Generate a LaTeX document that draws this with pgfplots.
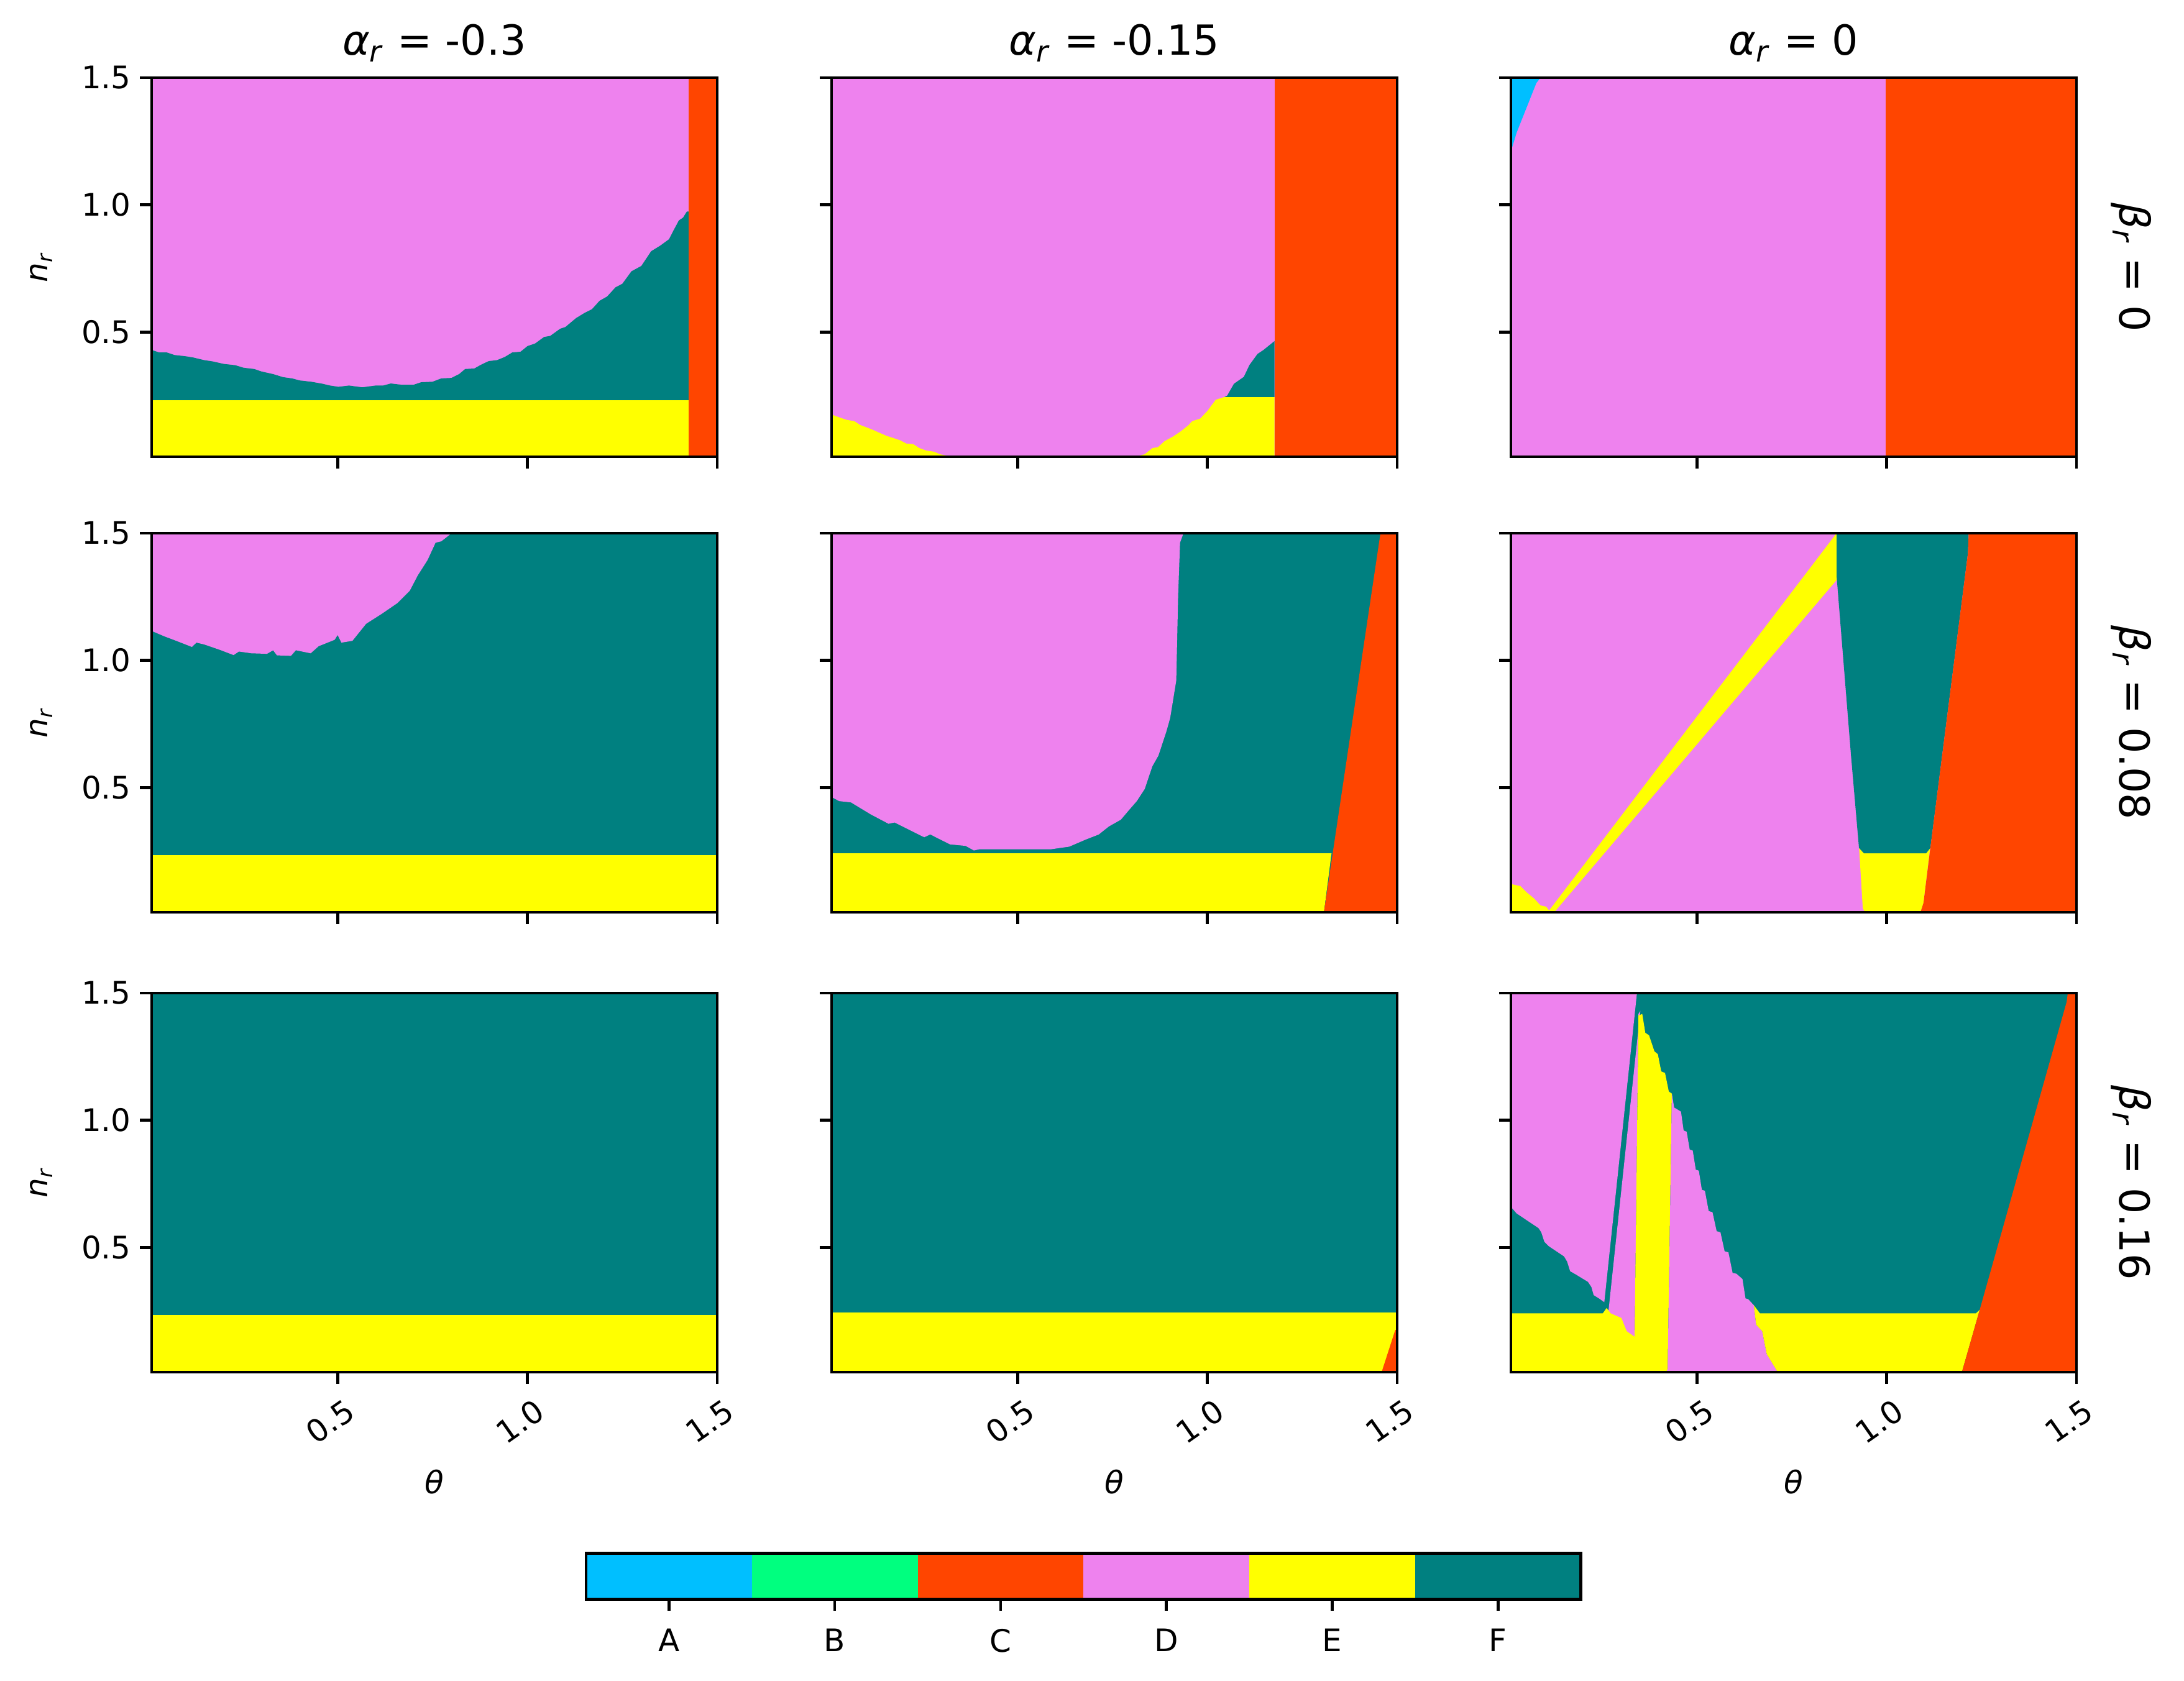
\documentclass[border=0pt]{standalone}
\usepackage{fontspec}
\setmainfont{DejaVu Sans}
\usepackage{pgfplots}
\pgfplotsset{compat=1.18}
\definecolor{cA}{HTML}{00BFFF}
\definecolor{cB}{HTML}{00FF7F}
\definecolor{cC}{HTML}{FF4500}
\definecolor{cD}{HTML}{EE82EE}
\definecolor{cE}{HTML}{FFFF00}
\definecolor{cF}{HTML}{008080}
\newcommand{\ar}{\textit{α}\textsubscript{\textit{r}}}
\newcommand{\br}{\textit{β}\textsubscript{\textit{r}}}
\newcommand{\nr}{\textit{n}\textsubscript{\textit{r}}}
\pgfplotsset{
  panel/.style={
    scale only axis, width=218.4pt, height=146.4pt, anchor=north west,
    xmin=0.01, xmax=1.5, ymin=0.01, ymax=1.5,
    xtick={0.5,1.0,1.5}, ytick={0.5,1.0,1.5},
    tick pos=left, tick align=outside, major tick length=4.5pt,
    axis on top, clip mode=individual, axis line style={line width=1.1pt},
    every tick/.style={black, line width=1.1pt},
    ticklabel style={font=\fontsize{12}{14}\selectfont},
    xticklabels={}, yticklabels={},
    title style={font=\fontsize{16}{19}\selectfont, at={(0.5,1)}, anchor=base, yshift=2.8pt},
    every axis y label/.style={at={(axis description cs:-0.195,0.5)}, rotate=90, anchor=center, font=\fontsize{12}{14}\selectfont},
    every axis x label/.style={at={(axis description cs:0.5,-0.29)}, anchor=center, font=\fontsize{12}{14}\selectfont},
    /pgf/number format/.cd, fixed, fixed zerofill, precision=1, assume math mode=true
  },
  ylab/.style={yticklabels={0.5,1.0,1.5}, ylabel={\nr}},
  xlab/.style={xticklabels={0.5,1.0,1.5}, xticklabel style={rotate=35, anchor=north east, yshift=-4.5pt, inner sep=1pt}, xlabel={\textit{θ}}},
}
\newcommand{\rowlab}[1]{\node[rotate=-90, font=\fontsize{16}{19}\selectfont] at (axis description cs:1.097,0.5) {#1};}
\begin{document}
\begin{tikzpicture}
\useasboundingbox (0,0) rectangle (843.36pt,-648.96pt);

% ---------------- Row 1 (beta_r = 0) ----------------
\begin{axis}[panel, ylab, at={(58.56pt,-30pt)}, title={\ar{} = -0.3}]
\addplot[draw=none, fill=cD] coordinates {(0.01,0.01)(1.5,0.01)(1.5,1.5)(0.01,1.5)};
\addplot[draw=none, fill=cF] coordinates {(0.01,0.01)(0.01,0.43)(0.03,0.42)(0.05,0.42)(0.07,0.41)(0.10,0.405)(0.12,0.40)(0.148,0.39)(0.17,0.385)(0.20,0.375)(0.23,0.37)(0.252,0.36)(0.28,0.355)(0.30,0.345)(0.33,0.335)(0.356,0.323)(0.38,0.318)(0.40,0.31)(0.43,0.305)(0.46,0.297)(0.48,0.29)(0.502,0.285)(0.53,0.29)(0.565,0.283)(0.60,0.29)(0.62,0.29)(0.64,0.298)(0.669,0.293)(0.70,0.293)(0.72,0.303)(0.75,0.305)(0.773,0.318)(0.80,0.32)(0.82,0.335)(0.836,0.355)(0.86,0.357)(0.878,0.372)(0.898,0.386)(0.92,0.39)(0.94,0.402)(0.96,0.42)(0.982,0.423)(1.00,0.445)(1.02,0.455)(1.044,0.481)(1.06,0.485)(1.086,0.513)(1.10,0.52)(1.128,0.555)(1.15,0.575)(1.17,0.59)(1.19,0.623)(1.21,0.64)(1.232,0.676)(1.25,0.69)(1.274,0.739)(1.30,0.76)(1.326,0.818)(1.35,0.84)(1.373,0.865)(1.385,0.90)(1.399,0.939)(1.41,0.95)(1.42,0.974)(1.425,0.974)(1.425,0.01)};
\addplot[draw=none, fill=cE] coordinates {(0.01,0.01)(0.01,0.232)(1.425,0.232)(1.425,0.01)};
\addplot[draw=none, fill=cC] coordinates {(1.425,0.01)(1.5,0.01)(1.5,1.5)(1.425,1.5)};
\end{axis}

\begin{axis}[panel, at={(321.12pt,-30pt)}, title={\ar{} = -0.15}]
\addplot[draw=none, fill=cD] coordinates {(0.01,0.01)(1.5,0.01)(1.5,1.5)(0.01,1.5)};
\addplot[draw=none, fill=cE] coordinates {(0.01,0.01)(0.01,0.176)(0.03,0.165)(0.05,0.155)(0.07,0.15)(0.085,0.135)(0.103,0.125)(0.12,0.115)(0.135,0.105)(0.155,0.092)(0.17,0.085)(0.19,0.075)(0.207,0.062)(0.225,0.06)(0.24,0.045)(0.26,0.034)(0.28,0.03)(0.295,0.02)(0.312,0.015)(0.33,0.01)};
\addplot[draw=none, fill=cE] coordinates {(0.81,0.01)(0.835,0.02)(0.855,0.044)(0.87,0.048)(0.887,0.071)(0.91,0.09)(0.93,0.11)(0.95,0.134)(0.96,0.15)(0.981,0.16)(1.00,0.19)(1.022,0.234)(1.045,0.245)(1.177,0.245)(1.177,0.01)};
\addplot[draw=none, fill=cF] coordinates {(1.045,0.245)(1.052,0.25)(1.07,0.297)(1.096,0.324)(1.111,0.371)(1.132,0.414)(1.148,0.43)(1.177,0.465)(1.177,0.245)};
\addplot[draw=none, fill=cC] coordinates {(1.177,0.01)(1.5,0.01)(1.5,1.5)(1.177,1.5)};
\end{axis}

\begin{axis}[panel, at={(583.44pt,-30pt)}, title={\ar{} = 0}]
\addplot[draw=none, fill=cD] coordinates {(0.01,0.01)(1.5,0.01)(1.5,1.5)(0.01,1.5)};
\addplot[draw=none, fill=cA] coordinates {(0.01,1.5)(0.01,1.21)(0.025,1.284)(0.077,1.479)(0.088,1.5)};
\addplot[draw=none, fill=cC] coordinates {(0.997,0.01)(1.5,0.01)(1.5,1.5)(0.997,1.5)};
\rowlab{\br{} = 0}
\end{axis}

% ---------------- Row 2 (beta_r = 0.08) ----------------
\begin{axis}[panel, ylab, at={(58.56pt,-205.92pt)}]
\addplot[draw=none, fill=cF] coordinates {(0.01,0.01)(1.5,0.01)(1.5,1.5)(0.01,1.5)};
\addplot[draw=none, fill=cD] coordinates {(0.01,1.5)(0.01,1.116)(0.043,1.095)(0.075,1.077)(0.116,1.053)(0.128,1.07)(0.148,1.063)(0.189,1.042)(0.226,1.021)(0.24,1.035)(0.273,1.028)(0.314,1.026)(0.33,1.04)(0.34,1.02)(0.377,1.018)(0.39,1.04)(0.429,1.028)(0.45,1.056)(0.492,1.081)(0.5,1.1)(0.51,1.07)(0.539,1.077)(0.554,1.105)(0.575,1.144)(0.617,1.184)(0.658,1.226)(0.69,1.274)(0.711,1.334)(0.737,1.395)(0.758,1.463)(0.773,1.468)(0.80,1.5)};
\addplot[draw=none, fill=cE] coordinates {(0.01,0.01)(0.01,0.234)(1.5,0.234)(1.5,0.01)};
\end{axis}

\begin{axis}[panel, at={(321.12pt,-205.92pt)}]
\addplot[draw=none, fill=cF] coordinates {(0.01,0.01)(1.5,0.01)(1.5,1.5)(0.01,1.5)};
\addplot[draw=none, fill=cD] coordinates {(0.01,1.5)(0.01,0.463)(0.03,0.447)(0.061,0.442)(0.113,0.395)(0.16,0.358)(0.176,0.363)(0.254,0.305)(0.27,0.316)(0.322,0.277)(0.363,0.271)(0.385,0.253)(0.40,0.258)(0.589,0.258)(0.636,0.268)(0.678,0.295)(0.714,0.316)(0.74,0.347)(0.772,0.374)(0.793,0.411)(0.814,0.447)(0.835,0.495)(0.855,0.584)(0.871,0.626)(0.892,0.721)(0.902,0.774)(0.918,0.921)(0.923,1.258)(0.928,1.463)(0.937,1.5)};
\addplot[draw=none, fill=cE] coordinates {(0.01,0.01)(0.01,0.242)(1.327,0.242)(1.307,0.01)};
\addplot[draw=none, fill=cC] coordinates {(1.307,0.01)(1.456,1.5)(1.5,1.5)(1.5,0.01)};
\end{axis}

\begin{axis}[panel, at={(583.44pt,-205.92pt)}]
\addplot[draw=none, fill=cD] coordinates {(0.01,0.01)(1.5,0.01)(1.5,1.5)(0.01,1.5)};
\addplot[draw=none, fill=cE] coordinates {(0.01,0.01)(0.01,0.121)(0.035,0.113)(0.051,0.089)(0.072,0.063)(0.088,0.037)(0.103,0.032)(0.114,0.01)};
\addplot[draw=none, fill=cE] coordinates {(0.107,0.01)(0.868,1.5)(0.868,1.316)(0.124,0.01)};
\addplot[draw=none, fill=cE] coordinates {(0.927,0.27)(0.937,0.026)(0.943,0.01)(1.089,0.01)(1.097,0.047)(1.115,0.27)};
\addplot[draw=none, fill=cF] coordinates {(0.868,1.5)(0.868,1.332)(0.906,0.626)(0.927,0.263)(0.94,0.242)(1.104,0.242)(1.115,0.263)(1.214,1.421)(1.216,1.5)};
\addplot[draw=none, fill=cC] coordinates {(1.089,0.01)(1.097,0.047)(1.115,0.263)(1.214,1.421)(1.216,1.5)(1.5,1.5)(1.5,0.01)};
\rowlab{\br{} = 0.08}
\end{axis}

% ---------------- Row 3 (beta_r = 0.16) ----------------
\begin{axis}[panel, ylab, xlab, at={(58.56pt,-383.52pt)}]
\addplot[draw=none, fill=cF] coordinates {(0.01,0.01)(1.5,0.01)(1.5,1.5)(0.01,1.5)};
\addplot[draw=none, fill=cE] coordinates {(0.01,0.01)(0.01,0.234)(1.5,0.234)(1.5,0.01)};
\end{axis}

\begin{axis}[panel, xlab, at={(321.12pt,-383.52pt)}]
\addplot[draw=none, fill=cF] coordinates {(0.01,0.01)(1.5,0.01)(1.5,1.5)(0.01,1.5)};
\addplot[draw=none, fill=cE] coordinates {(0.01,0.01)(0.01,0.244)(1.5,0.244)(1.5,0.01)};
\addplot[draw=none, fill=cC] coordinates {(1.459,0.01)(1.495,0.176)(1.5,0.176)(1.5,0.01)};
\end{axis}

\begin{axis}[panel, xlab, at={(583.44pt,-383.52pt)}]
\addplot[draw=none, fill=cF] coordinates {(0.01,0.01)(1.5,0.01)(1.5,1.5)(0.01,1.5)};
\addplot[draw=none, fill=cD] coordinates {(0.01,1.5)(0.342,1.5)(0.256,0.285)(0.244,0.298)(0.228,0.313)(0.222,0.345)(0.213,0.365)(0.18,0.395)(0.166,0.407)(0.158,0.445)(0.15,0.465)(0.11,0.505)(0.098,0.523)(0.09,0.56)(0.083,0.576)(0.025,0.634)(0.01,0.66)};
\addplot[draw=none, fill=cD] coordinates {(0.267,0.25)(0.351,1.43)(0.346,1.418)(0.336,0.14)(0.29,0.14)};
\addplot[draw=none, fill=cE] coordinates {(0.01,0.01)(0.01,0.241)(0.252,0.241)(0.262,0.262)(0.273,0.241)(0.301,0.223)(0.315,0.171)(0.336,0.149)(0.346,1.412)(0.356,1.418)(0.364,1.344)(0.374,1.334)(0.388,1.271)(0.397,1.26)(0.406,1.192)(0.416,1.186)(0.426,1.113)(0.434,1.105)(0.423,0.023)(0.419,0.01)};
\addplot[draw=none, fill=cD] coordinates {(0.434,1.105)(0.440,1.05)(0.447,1.044)(0.458,1.034)(0.465,0.96)(0.473,0.955)(0.481,0.885)(0.489,0.881)(0.497,0.806)(0.505,0.802)(0.513,0.727)(0.521,0.723)(0.531,0.643)(0.541,0.639)(0.552,0.564)(0.562,0.56)(0.573,0.485)(0.583,0.481)(0.594,0.40)(0.604,0.397)(0.62,0.376)(0.628,0.30)(0.635,0.297)(0.65,0.273)(0.656,0.197)(0.672,0.171)(0.684,0.081)(0.713,0.01)(0.419,0.01)(0.423,0.023)};
\addplot[draw=none, fill=cE] coordinates {(0.65,0.273)(0.666,0.241)(1.235,0.241)(1.245,0.255)(1.198,0.01)(0.713,0.01)(0.684,0.081)(0.672,0.171)(0.656,0.197)};
\addplot[draw=none, fill=cC] coordinates {(1.198,0.01)(1.245,0.255)(1.474,1.465)(1.477,1.5)(1.5,1.5)(1.5,0.01)};
\rowlab{\br{} = 0.16}
\end{axis}

% ---------------- Colour bar ----------------
\begin{axis}[scale only axis, width=384.2pt, height=17.8pt, anchor=north west, at={(226.3pt,-599.8pt)},
  xmin=0, xmax=6, ymin=0, ymax=1, ytick=\empty,
  xtick={0.5,1.5,2.5,3.5,4.5,5.5}, xticklabels={A,B,C,D,E,F},
  tick pos=left, tick align=outside, major tick length=4.5pt,
  axis on top, axis line style={line width=1.1pt}, every tick/.style={black, line width=1.1pt},
  ticklabel style={font=\fontsize{12}{14}\selectfont},
  xticklabel style={yshift=-3.5pt}]
\addplot[draw=none, fill=cA] coordinates {(0,0)(1,0)(1,1)(0,1)};
\addplot[draw=none, fill=cB] coordinates {(1,0)(2,0)(2,1)(1,1)};
\addplot[draw=none, fill=cC] coordinates {(2,0)(3,0)(3,1)(2,1)};
\addplot[draw=none, fill=cD] coordinates {(3,0)(4,0)(4,1)(3,1)};
\addplot[draw=none, fill=cE] coordinates {(4,0)(5,0)(5,1)(4,1)};
\addplot[draw=none, fill=cF] coordinates {(5,0)(6,0)(6,1)(5,1)};
\end{axis}
\end{tikzpicture}
\end{document}
